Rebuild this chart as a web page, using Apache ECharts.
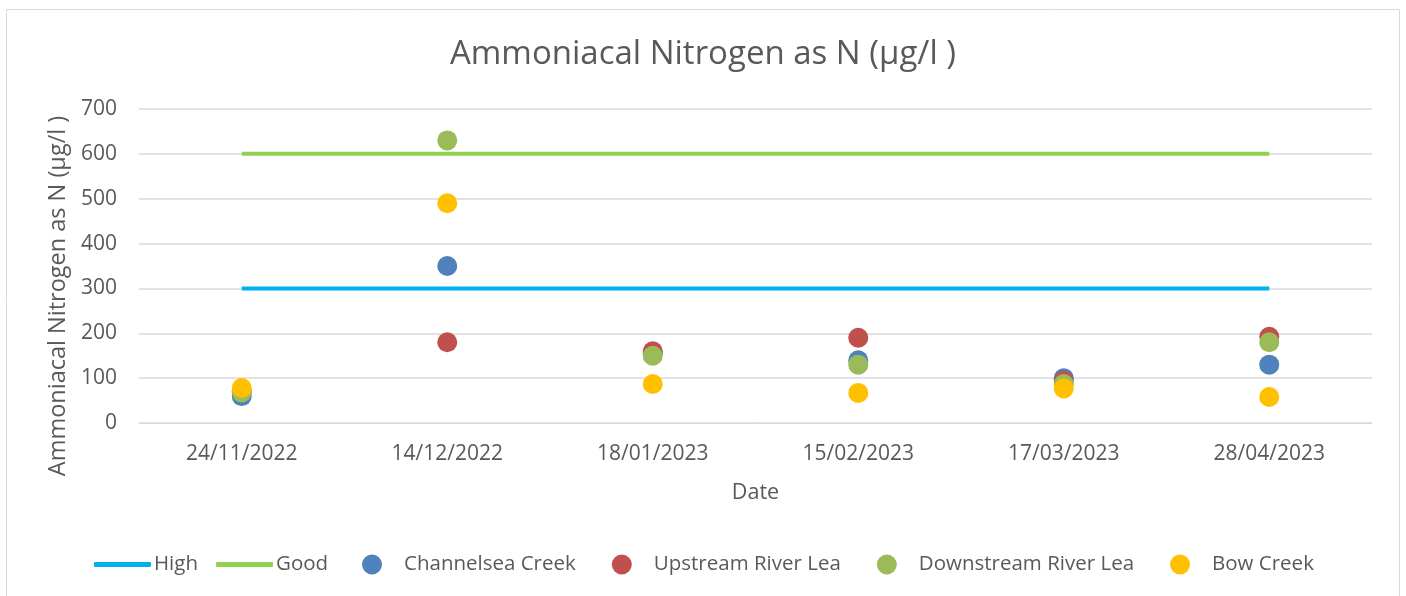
<!DOCTYPE html>
<html><head><meta charset="utf-8">
<script src="https://cdn.jsdelivr.net/npm/echarts@6/dist/echarts.min.js"></script>
<style>html,body{margin:0;padding:0;background:#fff}#c{width:1406px;height:596px}</style>
</head><body><div id="c"></div>
<script>
const categories = ['24/11/2022','14/12/2022','18/01/2023','15/02/2023','17/03/2023','28/04/2023'];
const high = [300,300,300,300,300,300];
const good = [600,600,600,600,600,600];
const channelsea = [60,350,155,140,100,130];
const upstream = [70,180,160,190,94,192];
const downstream = [68,630,150,130,87,180];
const bow = [78,490,87,67,77,58];
const yTicks = [0,100,200,300,400,500,600,700];

const FONT = '"Open Sans", "Liberation Sans", sans-serif';
const chart = echarts.init(document.getElementById('c'));
const sc = (name, data, color) => ({
  name, type: 'scatter', data, symbol: 'circle', symbolSize: 20,
  itemStyle: {color, opacity: 1}, z: 3
});
const legText = (pad) => ({fontFamily: FONT, fontSize: 20.5, color: '#595959', padding: [0,0,0,pad]});
chart.setOption({
  animation: false,
  backgroundColor: '#fff',
  graphic: [{type:'rect', shape:{x:6.5,y:9.5,width:1393,height:600}, style:{fill:'none', stroke:'#d9d9d9', lineWidth:1}}],
  title: {text: 'Ammoniacal Nitrogen as N (µg/l )', left: 'center', top: 33,
    textStyle: {fontFamily: FONT, fontSize: 33, fontWeight: 'normal', color: '#595959'}},
  grid: {left: 139, right: 34, top: 109, bottom: 173},
  legend: [{
    data: ['High','Good'], left: 89, top: 549, icon: 'roundRect', itemWidth: 57, itemHeight: 5, itemGap: 18,
    textStyle: legText(-2)
  },{
    data: ['Channelsea Creek','Upstream River Lea','Downstream River Lea','Bow Creek'],
    left: 357, top: 549, icon: 'circle', itemWidth: 20, itemHeight: 20, itemGap: 36,
    textStyle: legText(17)
  }],
  xAxis: {
    type: 'category', data: categories, boundaryGap: true,
    name: 'Date', nameLocation: 'middle', nameGap: 59,
    nameTextStyle: {fontFamily: FONT, fontSize: 21.5, color: '#595959'},
    axisLine: {show: true, lineStyle: {color: '#d9d9d9'}}, axisTick: {show: false},
    axisLabel: {fontFamily: FONT, fontSize: 21, color: '#595959', margin: 21}
  },
  yAxis: {
    type: 'value', min: 0, max: 700, interval: 100,
    name: 'Ammoniacal Nitrogen as N (µg/l )', nameLocation: 'middle', nameGap: 69, nameRotate: 90,
    nameTextStyle: {fontFamily: FONT, fontSize: 23.5, color: '#595959', padding: [0,60,0,0]},
    axisLine: {show: false}, axisTick: {show: false},
    splitLine: {lineStyle: {color: '#d9d9d9', width: 1.5}},
    axisLabel: {fontFamily: FONT, fontSize: 21, color: '#595959', margin: 22,
      formatter: v => yTicks.includes(v) ? String(v) : ''}
  },
  series: [
    {name:'High', type:'line', data: high, symbol:'none', lineStyle:{color:'#00B0F0', width:4}, itemStyle:{color:'#00B0F0'}, z:2},
    {name:'Good', type:'line', data: good, symbol:'none', lineStyle:{color:'#92D050', width:4}, itemStyle:{color:'#92D050'}, z:2},
    sc('Channelsea Creek', channelsea, '#4F81BD'),
    sc('Upstream River Lea', upstream, '#C0504D'),
    sc('Downstream River Lea', downstream, '#9BBB59'),
    sc('Bow Creek', bow, '#FFC000')
  ]
});
</script></body></html>
